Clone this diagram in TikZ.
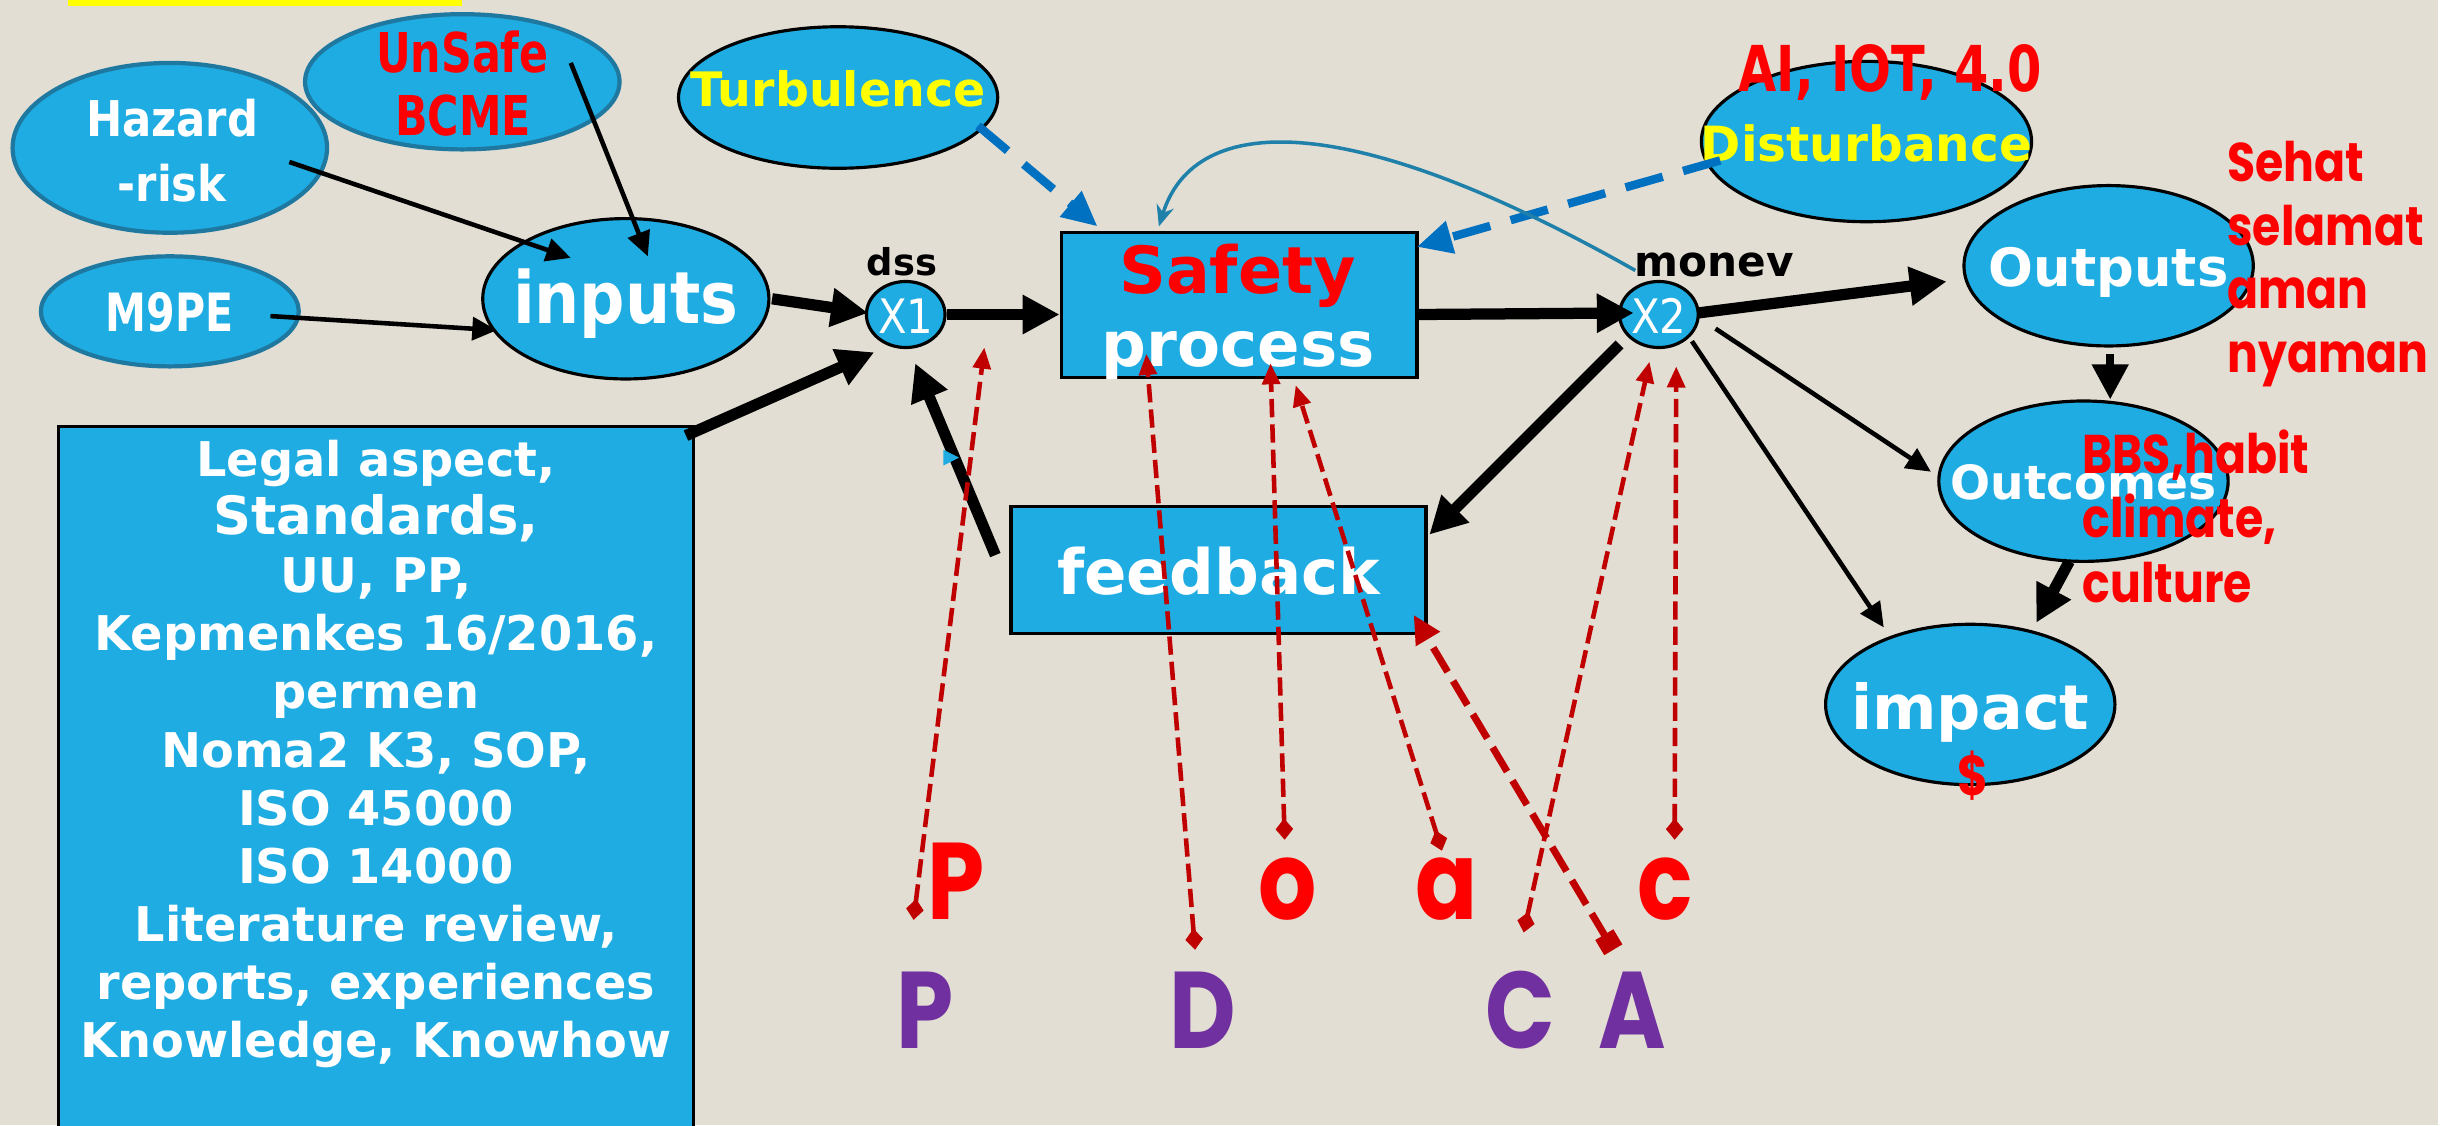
\documentclass[tikz,border=0pt]{standalone}
\usepackage{fontspec}
\setmainfont{DejaVu Sans}
\newfontfamily\vb{DejaVu Sans}
\newfontfamily\vbn{DejaVu Sans}[FakeStretch=0.88]
\newfontfamily\vbc{DejaVu Sans}[FakeStretch=0.78]
\newfontfamily\cg{Poppins}[FakeStretch=0.84]
\usetikzlibrary{shapes.geometric,arrows.meta,calc}
\newdimen\pxu \pxu=0.015724cm
\newcommand\fsz[2]{\fontsize{#1}{#2}\selectfont}
\newcommand\zb[1]{\makebox[0pt]{#1}}
\definecolor{bgc}{HTML}{E3DED3}
\definecolor{cyanf}{HTML}{1EACE2}
\definecolor{tealb}{HTML}{1E78A0}
\definecolor{redc}{HTML}{FF0000}
\definecolor{dred}{HTML}{C00000}
\definecolor{blu}{HTML}{0070C0}
\definecolor{tealc}{HTML}{1F80AA}
\definecolor{purp}{HTML}{7030A0}
\definecolor{yel}{HTML}{FFFF00}
\begin{document}
\begin{tikzpicture}[x=0.015724cm,y=-0.015724cm,
  ell/.style={ellipse, fill=cyanf, draw=black, line width=0.9pt, inner sep=0pt, text=white, text depth=0pt},
  tell/.style={ell, draw=tealb, line width=1.2pt},
  bx/.style={rectangle, fill=cyanf, draw=black, line width=1pt, inner sep=0pt, text=white},
  lbl/.style={inner sep=0pt, anchor=base},
  lblw/.style={inner sep=0pt, anchor=base west},
  fA/.style={font=\vb\bfseries\fsz{#1}{1.2\dimexpr#1\relax}},
  fN/.style={font=\vbn\bfseries\fsz{#1}{1.2\dimexpr#1\relax}},
  fC/.style={font=\vbc\bfseries\fsz{#1}{1.2\dimexpr#1\relax}},
  fG/.style={font=\cg\bfseries\fsz{#1}{1.2\dimexpr#1\relax}},
  thinarr/.style={line width=1.3pt, -{Triangle[length=7pt,width=6.5pt]}},
  medarr/.style={line width=2.2pt, -{Triangle[length=10pt,width=10pt]}},
  thickarr/.style={line width=3.2pt, -{Triangle[length=10.5pt,width=10.5pt]}},
  bluedash/.style={draw=blu, line width=2.4pt, dash pattern=on 11pt off 6pt, -{Triangle[length=10pt,width=9pt]}},
  tealarr/.style={draw=tealc, line width=1pt, -{Stealth[length=6pt,width=5pt]}},
  reddash/.style={draw=dred, line width=1.3pt, dash pattern=on 5.2pt off 2pt, {Diamond[length=6pt,width=5pt]}-{Triangle[length=6pt,width=5pt]}},
  reddashA/.style={draw=dred, line width=2pt, dash pattern=on 8pt off 3pt, {Square[length=5pt,width=6pt]}-{Triangle[length=8pt,width=7.5pt]}}
]
% page and background
\fill[white] (0,0) rectangle (1560,715.45);
\fill[bgc] (0,0) rectangle (1550.4,715.45);
\useasboundingbox (0,0) rectangle (1560,715.45);
\fill[yel] (43,0) rectangle (294,3.6);

% shapes with texts
\node[tell, minimum width=200\pxu, minimum height=108\pxu] (haz) at (108,94) {};
\node[lbl, text=white, fN=14pt] (hazA) at (109.5,87) {Hazard};
\node[lbl, text=white, fN=14pt] (hazB) at (109.5,128) {-risk};

\node[tell, minimum width=200\pxu, minimum height=86\pxu] (uns) at (294,52) {};
\node[lbl, text=redc, fC=15.6pt] (unsA) at (294,46) {UnSafe};
\node[lbl, text=redc, fC=15.6pt] (unsB) at (294.5,86) {BCME};

\node[tell, minimum width=164\pxu, minimum height=70\pxu, fC=15pt, text height=11.6pt] (m9) at (108,198) {\zb{M9PE}};
\node[ell, minimum width=182\pxu, minimum height=102\pxu, fN=20.5pt, text height=14.1pt] (inp) at (398,190) {\zb{inputs}};
\node[ell, minimum width=50\pxu, minimum height=42\pxu, font=\vbn\fsz{13.5pt}{16pt}, text height=10.7pt] (x1) at (576,200) {\zb{X1}};
\node[lbl, fA=10.5pt] (dss) at (573.5,175) {dss};

\node[ell, minimum width=203\pxu, minimum height=90\pxu, fA=13.5pt, text=yel, text height=5.2pt] (tur) at (533,62) {\zb{Turbulence}};

\node[bx, minimum width=226\pxu, minimum height=92\pxu] (safe) at (788,194) {};
\node[lbl, text=redc, fA=18.5pt] (safeA) at (787,186.5) {Safety};
\node[lbl, text=white, fA=17.8pt] (safeB) at (787.5,233.3) {process};

\node[bx, minimum width=264\pxu, minimum height=81\pxu, fA=17.8pt, text height=14.2pt, text depth=0pt] (fb) at (775,362.5) {\zb{feedback}};

\node[ell, minimum width=210\pxu, minimum height=102\pxu, fA=13.8pt, text=yel, text height=11.5pt] (dist) at (1187,90) {\zb{Disturbance}};
\node[lbl, text=redc, fC=18pt] (ai) at (1202,58) {AI, IOT, 4.0};

\node[ell, minimum width=50\pxu, minimum height=42\pxu, font=\vbn\fsz{13.5pt}{16pt}, text height=10.7pt] (x2) at (1055,200) {\zb{X2}};
\node[lbl, fA=12pt] (monev) at (1090,176) {monev};

\node[ell, minimum width=184\pxu, minimum height=102\pxu, fA=15pt, text height=11.9pt] (outp) at (1341,169) {\zb{Outputs}};
\node[ell, minimum width=184\pxu, minimum height=102\pxu, fA=13.4pt, text height=10.7pt] (outc) at (1325,306) {\zb{Outcomes}};
\node[ell, minimum width=184\pxu, minimum height=102\pxu, fA=17.6pt, text height=14.3pt] (imp) at (1253,448) {\zb{impact}};
\node[inner sep=0pt, text=redc, fG=16pt] (dollar) at (1255,493) {\$};

\node[lblw, text=redc, fG=15.5pt] (sehat) at (1416,115.5) {Sehat};
\node[lblw, text=redc, fG=15.5pt] (selamat) at (1416,156) {selamat};
\node[lblw, text=redc, fG=15.5pt] (aman) at (1416,196) {aman};
\node[lblw, text=redc, fG=15.5pt] (nyaman) at (1416,237) {nyaman};

\node[lblw, text=redc, fG=15.5pt] (bbs) at (1324,301) {BBS,habit};
\node[lblw, text=redc, fG=15.5pt] (climate) at (1324,341.5) {climate,};
\node[lblw, text=redc, fG=15.5pt] (culture) at (1324,383) {culture};

\node[bx, anchor=north west] (legal) at (36,270) {\parbox[b][470\pxu][t]{404\pxu}{\centering\vb\bfseries\fsz{13.6pt}{16.55pt}\vspace*{3.8pt}Legal aspect,\\
{\fsz{15pt}{16.55pt}Standards,}\\
UU, PP,\\
Kepmenkes 16/2016,\\
permen\\
Noma2 K3, SOP,\\
ISO 45000\\
ISO 14000\\
Literature review,\\
reports, experiences\\
Knowledge, Knowhow\par}};

% PDCA letters
\node[lbl, text=redc, fG=31pt] (lp) at (608,585) {P};
\node[lbl, text=redc, fG=31pt] (lo) at (819,585) {o};
\node[lbl, text=redc, fG=31pt] (la) at (920,585) {a};
\node[lbl, text=redc, fG=31pt] (lc) at (1059,585) {c};
\node[lbl, text=purp, fG=31pt] (uP) at (588,666.5) {P};
\node[lbl, text=purp, fG=31pt] (uD) at (765,666.5) {D};
\node[lbl, text=purp, fG=31pt] (uC) at (967,666.5) {C};
\node[lbl, text=purp, fG=31pt] (uA) at (1038,666.5) {A};

% black connectors
\draw[thinarr] ($(haz.center)+(76,9)$) -- ($(inp.center)+(-35,-26)$);
\draw[thinarr] ($(uns.center)+(69,-12)$) -- ($(inp.center)+(14,-27)$);
\draw[thinarr] ($(m9.center)+(64,3)$) -- ($(inp.center)+(-82,20)$);
\draw[thickarr] ($(inp.center)+(93,0)$) -- ($(x1.center)+(-24,-1)$);
\draw[thickarr] ($(legal.north east)+(-6,7)$) -- ($(x1.center)+(-20,24)$);
\draw[thickarr] ($(fb.center)+(-142,-9.5)$) -- ($(x1.center)+(6,31)$);
\fill[cyanf] (600,286) -- (610,291) -- (600,296) -- cycle;
\draw[thickarr] (x1.east) -- ($(safe.west)+(0,6)$);
\draw[thickarr] ($(safe.east)+(0,6)$) -- ($(x2.center)+(-16,-1)$);
\draw[thickarr] ($(x2.center)+(25,-1)$) -- ($(outp.center)+(-103,10)$);
\draw[thickarr] ($(x2.center)+(-25,19)$) -- ($(fb.center)+(134,-22.5)$);
\draw[thinarr] ($(x2.center)+(36,9)$) -- ($(outc.center)+(-97,-6)$);
\draw[thinarr] ($(x2.center)+(21,17)$) -- ($(imp.center)+(-55,-49)$);
\draw[medarr] ($(outp.center)+(1,56)$) -- ($(outc.center)+(17,-52)$);
\draw[thickarr] ($(outc.center)+(-9,51)$) -- ($(imp.center)+(42,-52)$);

% blue connectors
\draw[bluedash] ($(tur.center)+(89,18)$) -- ($(safe.center)+(-90,-50)$);
\draw[bluedash] ($(dist.center)+(-93,12)$) -- ($(safe.center)+(113,-37)$);
\draw[tealarr] ($(x2.center)+(-15,-28)$) .. controls (860,70) and (760,70) .. ($(safe.center)+(-51,-50)$);

% red dashed PDCA connectors
\coordinate (qP) at (581,585);
\coordinate (qD) at (760,604);
\coordinate (qo) at (817,534);
\coordinate (qa) at (917,541);
\coordinate (qA) at (1026,604);
\coordinate (qC) at (969,593);
\coordinate (qc) at (1065,534);
\draw[reddash] (qP) -- ($(x1.center)+(50,21)$);
\draw[reddash] (qD) -- ($(safe.center)+(-59,31)$);
\draw[reddash] (qo) -- ($(safe.center)+(20,37)$);
\draw[reddash] (qa) -- ($(safe.center)+(36,51)$);
\draw[reddashA] (qA) -- ($(fb.center)+(124,28.5)$);
\draw[reddash] (qC) -- ($(x2.center)+(-6,30)$);
\draw[reddash] (qc) -- ($(x2.center)+(11,33)$);
\end{tikzpicture}
\end{document}
